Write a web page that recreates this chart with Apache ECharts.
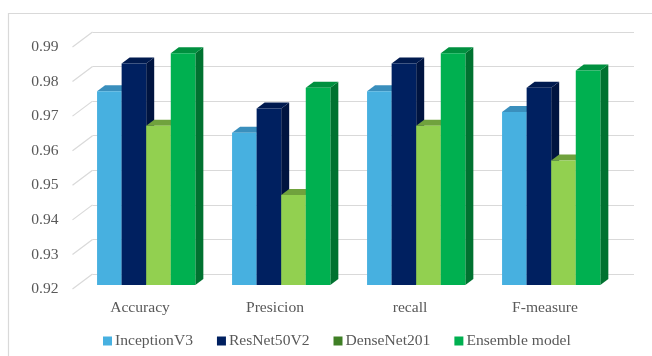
<!DOCTYPE html>
<html>
<head>
<meta charset="utf-8">
<script src="https://cdn.jsdelivr.net/npm/echarts@6/dist/echarts.min.js"></script>
<style>
  html, body { margin: 0; padding: 0; background: #ffffff; }
  #chart { width: 652px; height: 356px; }
</style>
</head>
<body>
<div id="chart"></div>
<script>
// Metric categories and scores per model
const categories = ['Accuracy', 'Presicion', 'recall', 'F-measure'];
const inceptionV3 = [0.976, 0.964, 0.976, 0.970];
const resNet50V2 = [0.984, 0.971, 0.984, 0.977];
const denseNet201 = [0.966, 0.946, 0.966, 0.956];
const ensembleModel = [0.987, 0.977, 0.987, 0.982];
const seriesNames = ['InceptionV3', 'ResNet50V2', 'DenseNet201', 'Ensemble model'];
const yTicks = [0.92, 0.93, 0.94, 0.95, 0.96, 0.97, 0.98, 0.99];

const Y_MIN = 0.92, Y_MAX = 0.99, Y_STEP = 0.01;

// Face colours of the extruded columns: front, top, side
const faceColors = [
  { front: '#47b0e0', top: '#3a8fbd', side: '#2f7aa3' },
  { front: '#002060', top: '#001a4f', side: '#001440' },
  { front: '#92d050', top: '#70a23d', side: '#5e8a33' },
  { front: '#00b050', top: '#00903f', side: '#007230' }
];
const legendColors = ['#47b0e0', '#002060', '#3f7f25', '#00b050'];

const DEPTH_X = 8, DEPTH_Y = 6;       // column depth offset
const WALL_X = 20, WALL_Y = 15;       // side wall depth offset
const BAR_FRAC = 0.182;               // column width as a share of the category band
const FONT = 'Liberation Serif';
const TEXT = '#595959';
const GRID_LINE = '#d9d9d9';

function columnRenderer(slot) {
  const c = faceColors[slot];
  return function (params, api) {
    const cat = api.value(0);
    const v = api.value(1);
    const top = api.coord([cat, v]);
    const base = api.coord([cat, Y_MIN]);
    const band = api.size([1, 0])[0];
    const w = band * BAR_FRAC;
    const x0 = top[0] - 2 * w + slot * w;
    const x1 = x0 + w;
    const yt = top[1], yb = base[1];
    const z = slot * 3;
    return {
      type: 'group',
      children: [
        { type: 'polygon', z2: z,
          shape: { points: [[x1, yt], [x1 + DEPTH_X, yt - DEPTH_Y], [x1 + DEPTH_X, yb - DEPTH_Y], [x1, yb]] },
          style: { fill: c.side } },
        { type: 'polygon', z2: z + 1,
          shape: { points: [[x0, yt], [x1, yt], [x1 + DEPTH_X, yt - DEPTH_Y], [x0 + DEPTH_X, yt - DEPTH_Y]] },
          style: { fill: c.top } },
        { type: 'rect', z2: z + 2,
          shape: { x: x0, y: yt, width: w, height: yb - yt },
          style: { fill: c.front } }
      ]
    };
  };
}

// Diagonal lines of the left side wall, one per tick
function wallRenderer(params, api) {
  const v = api.value(0);
  const p = api.coord([0, v]);
  const x = params.coordSys.x;
  return {
    type: 'line',
    shape: { x1: x, y1: p[1], x2: x - WALL_X, y2: p[1] + WALL_Y },
    style: { stroke: GRID_LINE, lineWidth: 1.2 }
  };
}

const allValues = [inceptionV3, resNet50V2, denseNet201, ensembleModel];

const chart = echarts.init(document.getElementById('chart'));

const valueAxisBase = {
  type: 'value', min: Y_MIN, max: Y_MAX, interval: Y_STEP,
  axisLine: { show: false }, axisTick: { show: false }
};

chart.setOption({
  animation: false,
  backgroundColor: '#ffffff',
  graphic: [{
    type: 'rect',
    shape: { x: 8.5, y: 13.5, width: 700, height: 400 },
    style: { fill: 'none', stroke: GRID_LINE, lineWidth: 1.2 },
    silent: true, z: -10
  }],
  legend: {
    left: 103, top: 333, padding: 0,
    itemWidth: 9, itemHeight: 9, itemGap: 24,
    icon: 'rect',
    textStyle: { fontFamily: FONT, fontSize: 15.6, color: TEXT, padding: [0, 0, 0, -2] },
    data: seriesNames.map((n, i) => ({ name: n, itemStyle: { color: legendColors[i] } }))
  },
  grid: [
    { left: 92.5, right: 18, top: 32, bottom: 82 },     // back wall
    { left: 72.5, right: 39.5, top: 47, bottom: 67 },   // front plane (labels)
    { left: 78.7, right: 33.3, top: 42.8, bottom: 71 }  // column plane
  ],
  xAxis: [
    { gridIndex: 0, type: 'category', data: categories, show: false },
    { gridIndex: 1, type: 'category', data: categories,
      axisLine: { show: false }, axisTick: { show: false },
      axisLabel: { margin: 11, fontFamily: FONT, fontSize: 15.6, color: TEXT } },
    { gridIndex: 2, type: 'category', data: categories, show: false }
  ],
  yAxis: [
    Object.assign({ gridIndex: 0 }, valueAxisBase, {
      axisLabel: { show: false },
      splitLine: { show: true, lineStyle: { color: GRID_LINE, width: 1.2 } }
    }),
    Object.assign({ gridIndex: 1 }, valueAxisBase, {
      splitLine: { show: false },
      axisLabel: { margin: 14, fontFamily: FONT, fontSize: 15.6, color: TEXT,
        formatter: v => v.toFixed(2) }
    }),
    Object.assign({ gridIndex: 2 }, valueAxisBase, { show: false, splitLine: { show: false } })
  ],
  series: [
    {
      type: 'custom', name: 'wall', xAxisIndex: 0, yAxisIndex: 0, silent: true,
      renderItem: wallRenderer, data: yTicks.map(v => [v]), z: 1
    }
  ].concat(seriesNames.map((name, i) => ({
    type: 'custom', name: name, xAxisIndex: 2, yAxisIndex: 2,
    itemStyle: { color: legendColors[i] },
    renderItem: columnRenderer(i),
    data: categories.map((c, k) => [k, allValues[i][k]]),
    z: 2
  })))
});
</script>
</body>
</html>
